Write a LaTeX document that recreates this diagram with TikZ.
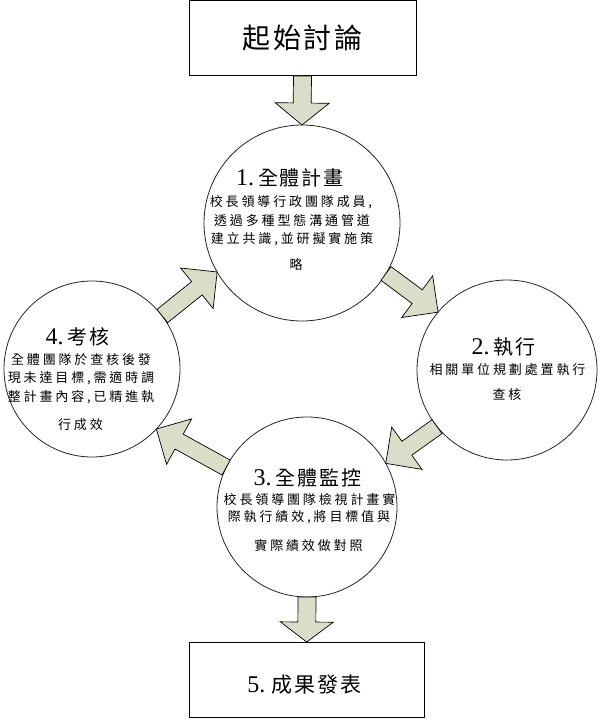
\documentclass[tikz,border=0pt]{standalone}
\usepackage{fontspec}
\setmainfont{Liberation Serif}
\newfontfamily\cjkbody[LetterSpace=22]{Noto Sans CJK TC}
\newfontfamily\cjktitle[LetterSpace=10]{Noto Sans CJK TC}
\usetikzlibrary{calc}
\definecolor{arrowfill}{RGB}{218,221,200}
\newcommand\steptitle[2]{{\fontsize{24}{28}\selectfont #1}\hspace{4pt}{\cjktitle\fontsize{20}{24}\selectfont #2}}
\newcommand\blockarrow[5]{%
  \path ($(#2)!#5!(#1)$) coordinate (bah);
  \filldraw[blockarr] ($(#1)!#3!90:(#2)$) -- ($(bah)!#3!90:(#2)$) -- ($(bah)!#4!90:(#2)$) -- (#2) -- ($(bah)!#4!-90:(#2)$) -- ($(bah)!#3!-90:(#2)$) -- ($(#1)!#3!-90:(#2)$) -- cycle;
}
\tikzset{
  circ/.style={circle, draw=black!85, line width=0.8pt, inner sep=0pt, outer sep=0pt, fill=white},
  boxnode/.style={rectangle, draw=black, line width=1pt, inner sep=0pt, outer sep=0pt, fill=white},
  blockarr/.style={fill=arrowfill, draw=black, line width=0.7pt, line join=miter},
  bodytxt/.style={inner sep=0pt, font=\cjkbody\fontsize{13}{15}\selectfont},
  titletxt/.style={inner sep=0pt}
}
\begin{document}
\begin{tikzpicture}[x=1pt, y=-1pt]
\fill[white] (0,0) rectangle (599,719);
\useasboundingbox (0,0) rectangle (599,719);

% boxes
\node[boxnode, minimum width=227pt, minimum height=75.5pt, font=\cjktitle\fontsize{28}{32}\selectfont] (top) at (302.5,38.25) {起始討論};
\node[boxnode, minimum width=234.7pt, minimum height=75.7pt] (bot) at (306.7,679.85) {};
\node[titletxt] (bottxt) at (304.5,685) {{\fontsize{24}{28}\selectfont 5.}\hspace{6pt}{\cjktitle\fontsize{21}{25}\selectfont 成果發表}};

% circles
\node[circ, minimum size=196pt] (c1) at (302,223) {};
\node[circ, minimum size=180pt] (c2) at (507,370) {};
\node[circ, minimum size=180pt] (c3) at (307,507) {};
\node[circ, minimum size=176pt] (c4) at (92,369) {};

% circle 1 text
\node[titletxt] (t1) at (290,178) {\steptitle{1.}{全體計畫}};
\node[bodytxt] (t1a) at (291,202) {校長領導行政團隊成員,};
\node[bodytxt] (t1b) at (292,221) {透過多種型態溝通管道};
\node[bodytxt] (t1c) at (292,239) {建立共識,並研擬實施策};
\node[bodytxt] (t1d) at (296,265) {略};

% circle 2 text
\node[titletxt] (t2) at (503.5,347) {\steptitle{2.}{執行}};
\node[bodytxt] (t2a) at (507.5,370) {相關單位規劃處置執行};
\node[bodytxt] (t2b) at (507,395) {查核};

% circle 3 text
\node[titletxt] (t3) at (307.5,478) {\steptitle{3.}{全體監控}};
\node[bodytxt] (t3a) at (309.5,500) {校長領導團隊檢視計畫實};
\node[bodytxt] (t3b) at (309,517) {際執行績效,將目標值與};
\node[bodytxt] (t3c) at (308.5,546) {實際績效做對照};

% circle 4 text
\node[titletxt] (t4) at (77.5,337) {\steptitle{4.}{考核}};
\node[bodytxt] (t4a) at (81,360) {全體團隊於查核後發};
\node[bodytxt] (t4b) at (81,378) {現未達目標,需適時調};
\node[bodytxt] (t4c) at (81,397) {整計畫內容,已精進執};
\node[bodytxt] (t4d) at (80.5,425) {行成效};

% block arrows
\blockarrow{top.south}{c1.north}{9pt}{27pt}{22pt}
\blockarrow{c1.329}{c2.140}{8.5pt}{26pt}{26pt}
\blockarrow{c2.219}{c3.29}{8.5pt}{26pt}{26pt}
\blockarrow{c3.154}{c4.317}{8.5pt}{26pt}{26pt}
\blockarrow{c4.37}{c1.210}{8.5pt}{26pt}{26pt}
\blockarrow{c3.south}{bot.north}{9pt}{26.5pt}{20pt}
\end{tikzpicture}
\end{document}
